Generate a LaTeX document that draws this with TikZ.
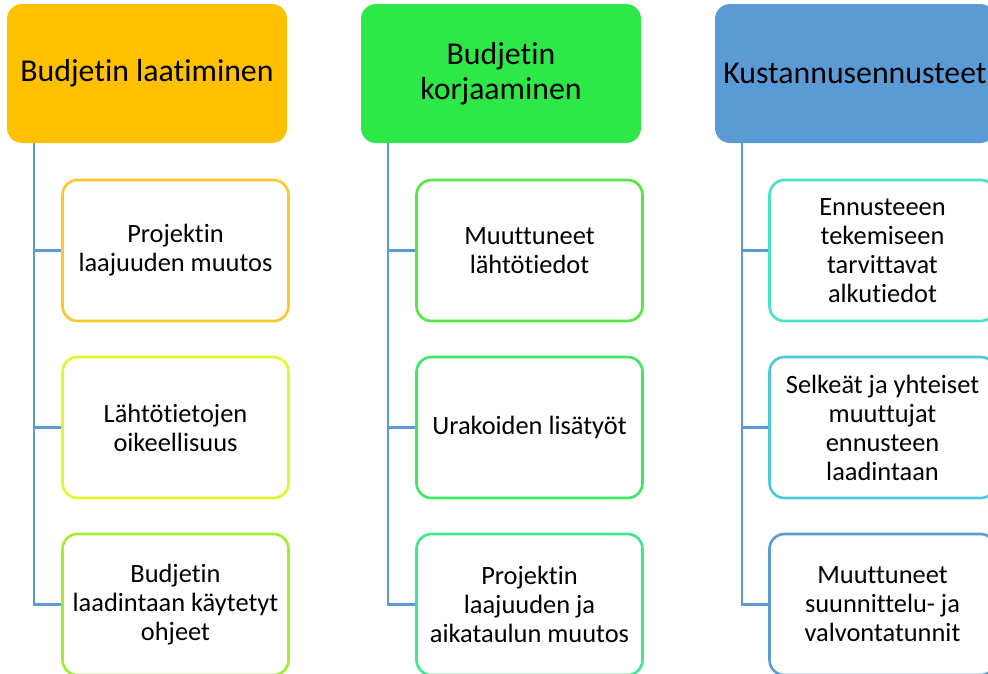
\documentclass[tikz,border=0pt]{standalone}
\usepackage{fontspec}
\setmainfont[Ligatures=NoCommon]{Carlito}
\definecolor{hdrA}{HTML}{FFC000}
\definecolor{hdrB}{HTML}{2EE84A}
\definecolor{hdrC}{HTML}{5B9BD5}
\definecolor{lnk}{HTML}{5B9BD5}
\definecolor{a1}{HTML}{FFC62A}
\definecolor{a2}{HTML}{E4F52A}
\definecolor{a3}{HTML}{A6EC2E}
\definecolor{b1}{HTML}{55E845}
\definecolor{b2}{HTML}{3FE862}
\definecolor{b3}{HTML}{3FE890}
\definecolor{c1}{HTML}{48E2C4}
\definecolor{c2}{HTML}{4CC8DA}
\definecolor{c3}{HTML}{5B9BD5}
\tikzset{
  hdr/.style={rounded corners=15pt, minimum width=280pt, minimum height=139pt,
    align=center, font=\fontsize{31.8}{35}\selectfont, inner sep=0pt, text=black},
  leaf/.style={draw=#1, line width=2.6pt, rounded corners=15pt, fill=white,
    minimum width=226pt, minimum height=141pt, align=center,
    font=\fontsize{26.4}{29}\selectfont, inner sep=0pt, text=black},
  link/.style={draw=lnk, line width=2.8pt}
}
\begin{document}
\begin{tikzpicture}[x=1pt,y=-1pt]
\useasboundingbox (0,0) rectangle (988,673);
\clip (0,0) rectangle (988,673);

% column headers
\node[hdr, fill=hdrA] (h1) at (147,73.5) {Budjetin laatiminen};
\node[hdr, fill=hdrB] (h2) at (501,73.5) {Budjetin\\korjaaminen};
\node[hdr, fill=hdrC] (h3) at (855,73.5) {Kustannusennusteet};

% column 1
\node[leaf=a1] (a1) at (175.5,250.5) {Projektin\\laajuuden muutos};
\node[leaf=a2] (a2) at (175.5,427.5) {Lähtötietojen\\oikeellisuus};
\node[leaf=a3] (a3) at (175.5,604.5) {Budjetin\\laadintaan käytetyt\\ohjeet};

% column 2
\node[leaf=b1] (b1) at (529.5,250.5) {Muuttuneet\\lähtötiedot};
\node[leaf=b2] (b2) at (529.5,427.5) {Urakoiden lisätyöt};
\node[leaf=b3] (b3) at (529.5,604.5) {Projektin\\laajuuden ja\\aikataulun muutos};

% column 3
\node[leaf=c1] (c1) at (882.5,250.5) {Ennusteeen\\tekemiseen\\tarvittavat\\alkutiedot};
\node[leaf=c2] (c2) at (882.5,427.5) {Selkeät ja yhteiset\\muuttujat\\ennusteen\\laadintaan};
\node[leaf=c3] (c3) at (882.5,604.5) {Muuttuneet\\suunnittelu- ja\\valvontatunnit};

% connectors
\foreach \h/\x/\c in {h1/34/a, h2/388/b, h3/742/c}{
  \draw[link] (\x,0 |- \h.south) -- (\x,0 |- \c1.west) -- (\c1.west);
  \draw[link] (\x,0 |- \c1.west) -- (\x,0 |- \c2.west) -- (\c2.west);
  \draw[link] (\x,0 |- \c2.west) -- (\x,0 |- \c3.west) -- (\c3.west);
}
\end{tikzpicture}
\end{document}
